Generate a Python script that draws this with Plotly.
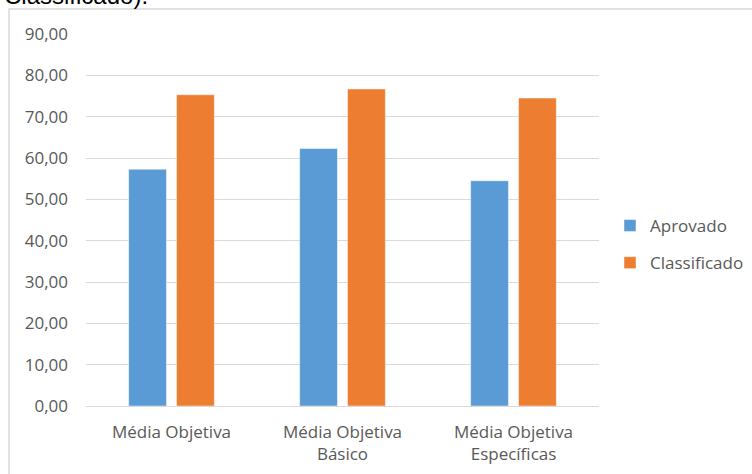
import plotly.graph_objects as go

categories = ["Média Objetiva", "Média Objetiva<br>Básico", "Média Objetiva<br>Específicas"]
aprovado = [57.3, 62.3, 54.5]
classificado = [75.3, 76.7, 74.5]
series_names = ["Aprovado", "Classificado"]
colors = ["#5B9BD5", "#ED7D31"]

W, H = 752, 474
L, R, T, B = 86, 153, 34, 68
pw, ph = W - L - R, H - T - B

def px_x(x):
    return (x - L) / pw

def px_y(y):
    return (H - B - y) / ph

fig = go.Figure()
for name, vals, col, grp in zip(series_names, [aprovado, classificado], colors, ["a", "c"]):
    fig.add_trace(go.Bar(
        x=categories, y=vals, name=name, legendgroup=grp,
        marker=dict(color=col, line=dict(color="rgba(255,255,255,0.6)", width=0.8)),
    ))

font_main = "Open Sans"
fig.update_layout(
    width=W, height=H,
    margin=dict(l=L, r=R, t=T, b=B, pad=0, autoexpand=False),
    paper_bgcolor="white", plot_bgcolor="white",
    barmode="group", bargap=0.44, bargroupgap=0.21,
    separators=",.",
    showlegend=True,
    legend=dict(
        x=px_x(610), y=px_y(208), xanchor="left", yanchor="top",
        font=dict(family=font_main, size=17, color="#595959"),
        tracegroupgap=12, itemwidth=30,
        bgcolor="rgba(0,0,0,0)",
    ),
    font=dict(family=font_main, size=17, color="#595959"),
    xaxis=dict(
        showgrid=False, showline=False, zeroline=False, ticks="",
        ticklabelstandoff=14,
        tickfont=dict(family=font_main, size=17, color="#595959"),
    ),
    yaxis=dict(
        range=[0, 90], dtick=10, tick0=0, tickformat=".2f",
        showgrid=True, gridcolor="#D9D9D9", gridwidth=1,
        zeroline=True, zerolinecolor="#D9D9D9", zerolinewidth=1,
        showline=False, ticks="", ticklabelstandoff=17,
        tickfont=dict(family=font_main, size=17, color="#595959"),
    ),
)

# chart frame border (extends past the visible window)
fig.add_shape(type="rect", xref="paper", yref="paper",
              x0=px_x(9), x1=px_x(770), y0=px_y(490), y1=px_y(9),
              line=dict(color="#D9D9D9", width=1.5), fillcolor="rgba(0,0,0,0)", layer="below")

# cut-off text above the chart
fig.add_annotation(text="Classificado).", xref="paper", yref="paper",
                   x=px_x(2), y=px_y(11), xanchor="left", yanchor="bottom",
                   showarrow=False, font=dict(family="Liberation Sans", size=24, color="black"))

fig.write_html("out.html")
